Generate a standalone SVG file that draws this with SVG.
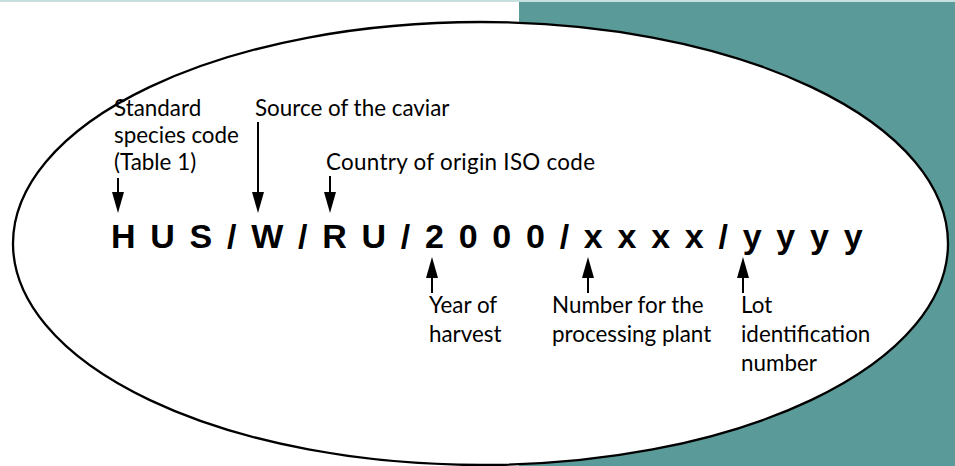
<svg xmlns="http://www.w3.org/2000/svg" width="955" height="466" viewBox="0 0 955 466">
  <style>
    .lbl { font-family: Lato, "Open Sans", "Liberation Sans", sans-serif; font-size: 22.4px; fill: #000; }
    .code { font-family: "Liberation Sans", Arial, sans-serif; font-size: 34px; font-weight: bold; fill: #000; letter-spacing: 2.65px; }
    .arrow { stroke: #000; stroke-width: 2; fill: none; marker-end: url(#head); }
  </style>
  <defs>
    <marker id="head" viewBox="0 0 21 12" refX="0" refY="6" markerWidth="21" markerHeight="12" markerUnits="userSpaceOnUse" orient="auto">
      <path d="M0,0 L21,6 L0,12 Z" fill="#000"/>
    </marker>
  </defs>

  <g id="background">
    <rect x="0" y="0" width="955" height="466" fill="#ffffff"/>
    <rect x="519" y="2" width="436" height="464" fill="#5A9B99"/>
    <rect x="0" y="0" width="955" height="2" fill="#C6DFDF"/>
  </g>

  <g id="ellipse">
    <ellipse cx="480.5" cy="243.5" rx="467.5" ry="221.5" fill="#ffffff" stroke="#000" stroke-width="2.3"/>
  </g>

  <g id="code">
    <text class="code" x="111" y="248">H U S / W / R U / 2 0 0 0 / x x x x / y y y y</text>
  </g>

  <g id="label-species">
    <text class="lbl" x="114" y="116">Standard</text>
    <text class="lbl" x="114" y="143">species code</text>
    <text class="lbl" x="114" y="170">(Table 1)</text>
  </g>
  <g id="label-source">
    <text class="lbl" x="255" y="116">Source of the caviar</text>
  </g>
  <g id="label-country">
    <text class="lbl" x="326" y="170" textLength="269" lengthAdjust="spacing">Country of origin ISO code</text>
  </g>
  <g id="label-year">
    <text class="lbl" x="429" y="313">Year of</text>
    <text class="lbl" x="429" y="342">harvest</text>
  </g>
  <g id="label-plant">
    <text class="lbl" x="552" y="313">Number for the</text>
    <text class="lbl" x="552" y="342">processing plant</text>
  </g>
  <g id="label-lot">
    <text class="lbl" x="741" y="313">Lot</text>
    <text class="lbl" x="741" y="342">identification</text>
    <text class="lbl" x="741" y="371">number</text>
  </g>

  <g id="connectors">
    <line class="arrow" x1="118" y1="178" x2="118" y2="192"/>
    <line class="arrow" x1="258" y1="122" x2="258" y2="192"/>
    <line class="arrow" x1="330" y1="176" x2="330" y2="192"/>
    <line class="arrow" x1="432" y1="293" x2="432" y2="278"/>
    <line class="arrow" x1="588" y1="293" x2="588" y2="278"/>
    <line class="arrow" x1="743" y1="293" x2="743" y2="278"/>
  </g>
</svg>
